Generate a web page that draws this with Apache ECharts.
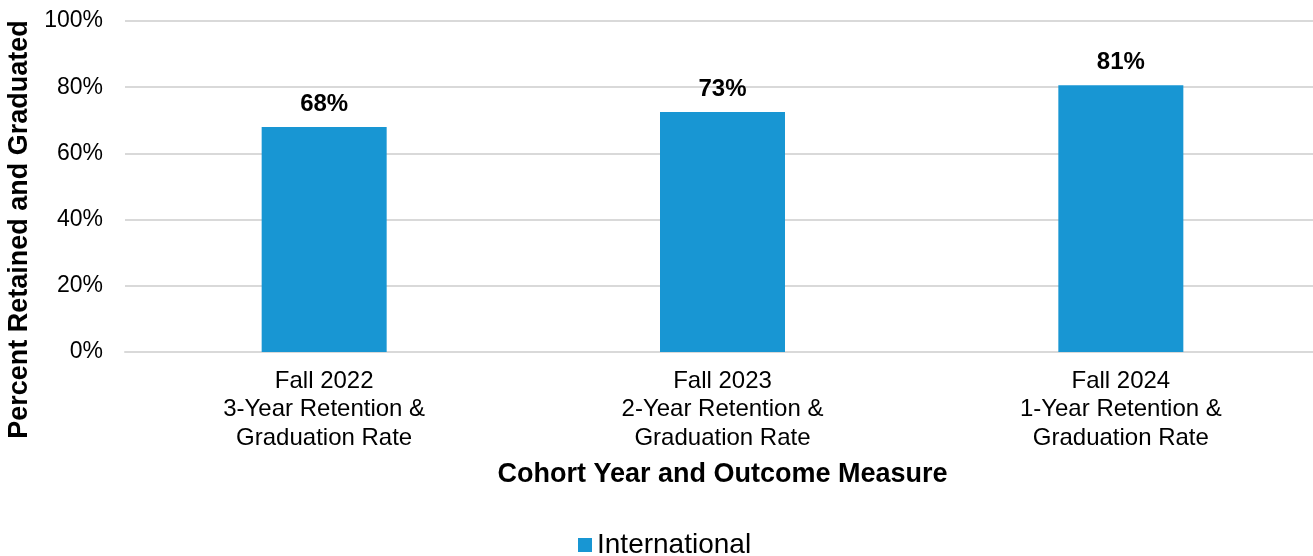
<!DOCTYPE html>
<html>
<head>
<meta charset="utf-8">
<script src="https://cdn.jsdelivr.net/npm/echarts@6/dist/echarts.min.js"></script>
<style>
  html, body { margin: 0; padding: 0; background: #fff; }
  #main { width: 1313px; height: 556px; }
</style>
</head>
<body>
<div id="main"></div>
<script>
// data
const categories = [
  'Fall 2022\n3-Year Retention &\nGraduation Rate',
  'Fall 2023\n2-Year Retention &\nGraduation Rate',
  'Fall 2024\n1-Year Retention &\nGraduation Rate'
]
const international = [68.0, 72.5, 80.6]
const yTicks = [0, 20, 40, 60, 80, 100]

const font = 'Liberation Sans, Arial, sans-serif'
const chart = echarts.init(document.getElementById('main'))

chart.setOption({
  animation: false,
  textStyle: { fontFamily: font },
  grid: { left: 125, right: -7, top: 21, bottom: 204, containLabel: false, outerBoundsMode: 'none' },
  legend: {
    data: ['International'],
    bottom: -3,
    left: 578,
    padding: 0,
    itemWidth: 14,
    itemHeight: 14,
    icon: 'rect',
    textStyle: { fontSize: 28, color: '#000', fontFamily: font }
  },
  xAxis: {
    type: 'category',
    data: categories,
    name: 'Cohort Year and Outcome Measure',
    nameLocation: 'middle',
    nameGap: 109,
    nameTextStyle: { fontSize: 27, fontWeight: 'bold', color: '#000', fontFamily: font },
    axisLine: { show: true, lineStyle: { color: '#d9d9d9', width: 2 } },
    axisTick: { show: false },
    axisLabel: { fontSize: 24, color: '#000', lineHeight: 28.5, margin: 15, fontFamily: font }
  },
  yAxis: {
    type: 'value',
    min: yTicks[0],
    max: yTicks[yTicks.length - 1],
    interval: 20,
    name: 'Percent Retained and Graduated',
    nameLocation: 'middle',
    nameGap: 82,
    nameTextStyle: {
      fontSize: 27, fontWeight: 'bold', color: '#000', fontFamily: font,
      padding: [0, 86, 0, 0]
    },
    axisLine: { show: false },
    axisTick: { show: false },
    axisLabel: {
      fontSize: 23, color: '#000', margin: 22, formatter: '{value}%', fontFamily: font
    },
    splitLine: { lineStyle: { color: '#d9d9d9', width: 2 } }
  },
  series: [
    {
      name: 'International',
      type: 'bar',
      data: international,
      barWidth: 125,
      itemStyle: { color: '#1896d3' },
      label: {
        show: true,
        position: 'top',
        distance: 11,
        fontSize: 24,
        fontWeight: 'bold',
        color: '#000',
        fontFamily: font,
        formatter: (p) => Math.round(p.value) + '%'
      }
    }
  ]
})
</script>
</body>
</html>
